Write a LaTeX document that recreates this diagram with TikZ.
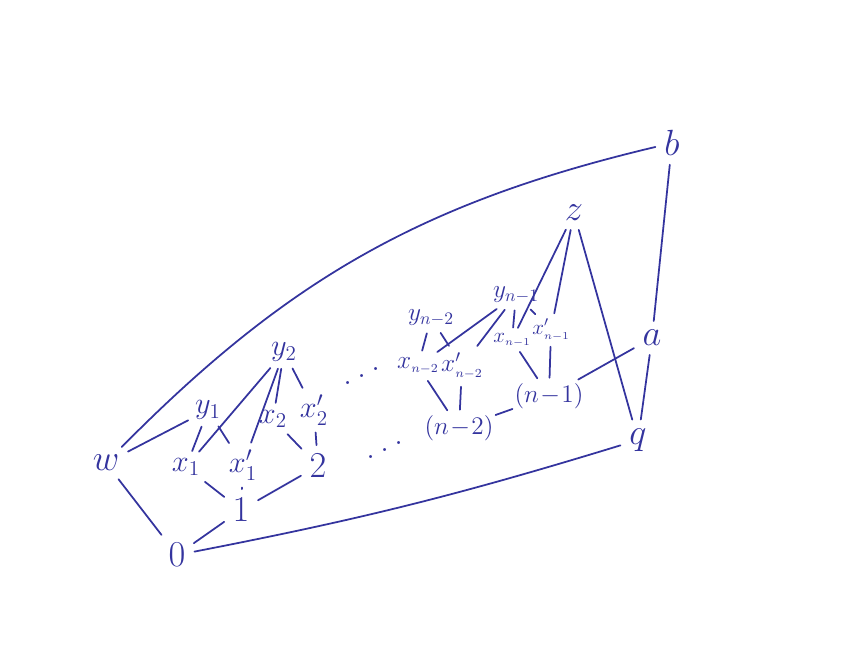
\documentclass[tikz,border=0pt]{standalone}
\usepackage{amsmath,amssymb}
\usepackage{tikz}
\usetikzlibrary{arrows.meta}
\usepackage{xcolor}
\definecolor{pen}{RGB}{52,52,158}
\tikzset{
  elt/.style={text=pen, font=\huge, inner sep=3pt},
  mid/.style={text=pen, font=\LARGE, inner sep=2pt},
  sml/.style={text=pen, font=\Large, inner sep=2pt},
  tny/.style={text=pen, font=\large, inner sep=1pt},
  ln/.style={draw=pen, line width=1pt, line cap=round, shorten >=2pt, shorten <=2pt}
}
\newcommand{\risedots}{.\hspace{3pt}\raisebox{4pt}{.}\hspace{3pt}\raisebox{8pt}{.}}

\begin{document}
\begin{tikzpicture}[x=0.02cm, y=-0.02cm]
  \useasboundingbox (0,0) rectangle (845,658);
  % outer elements
  \node[elt] (b) at (672,143) {$b$};
  \node[elt] (z) at (574,213) {$z$};
  \node[elt] (a) at (652,338) {$a$};
  \node[elt] (q) at (638,440) {$q$};
  \node[elt] (w) at (106,463) {$w$};
  \node[elt] (n0) at (177,555) {$0$};
  % chain
  \node[elt] (n1) at (241,510) {$1$};
  \node[elt] (n2) at (318,466) {$2$};
  \node[sml, inner sep=1pt] (nm2) at (459,428) {$(n\!-\!2)$};
  \node[sml, inner sep=1pt] (nm1) at (549,396) {$(n\!-\!1)$};
  \node[elt] (dotlo) at (385,450) {\risedots};
  \node[elt] (dothi) at (362,376) {\risedots};
  % first blocks
  \node[mid] (x1) at (186,467) {$x_1$};
  \node[mid] (x1p) at (243,465) {$x_1'$};
  \node[mid] (y1) at (208,410) {$y_1$};
  \node[mid] (x2) at (273,419) {$x_2$};
  \node[mid] (x2p) at (314,410) {$x_2'$};
  \node[mid] (y2) at (284,352) {$y_2$};
  % last blocks
  \node[sml] (ym2) at (431,318) {$y_{n-2}$};
  \node[sml] (xm2) at (418,366) {$x_{\scriptscriptstyle n-2}$};
  \node[sml] (xm2p) at (462,366) {$x_{\scriptscriptstyle n-2}'$};
  \node[sml] (ym1) at (516,295) {$y_{n-1}$};
  \node[tny] (xm1) at (512,340) {$x_{\scriptscriptstyle n-1}$};
  \node[tny] (xm1p) at (551,330) {$x_{\scriptscriptstyle n-1}'$};

  % outer frame
  \draw[ln] (w) to[bend left=16] (b);
  \draw[ln] (b) -- (a);
  \draw[ln] (a) -- (q);
  \draw[ln] (z) -- (q);
  \draw[ln] (w) -- (n0);
  \draw[ln] (w) -- (y1);
  \draw[ln] (n0) to[bend right=3] (q);
  % bottom chain
  \draw[ln] (n0) -- (n1);
  \draw[ln] (n1) -- (n2);
  \draw[ln, shorten >=0pt, shorten <=0pt] (nm2) -- (nm1);
  \draw[ln] (nm1) -- (a);
  % first blocks
  \draw[ln] (n1) -- (x1);
  \draw[ln] (n1) -- (x1p);
  \draw[ln] (n2) -- (x2);
  \draw[ln] (n2) -- (x2p);
  \draw[ln] (y1) -- (x1);
  \draw[ln] (y1) -- (x1p);
  \draw[ln] (y2) -- (x1);
  \draw[ln] (y2) -- (x1p);
  \draw[ln] (y2) -- (x2);
  \draw[ln] (y2) -- (x2p);
  % last blocks
  \draw[ln] (nm2) -- (xm2);
  \draw[ln] (nm2) -- (xm2p);
  \draw[ln] (nm1) -- (xm1);
  \draw[ln] (nm1) -- (xm1p);
  \draw[ln] (ym2) -- (xm2);
  \draw[ln] (ym2) -- (xm2p);
  \draw[ln] (ym1) -- (xm2);
  \draw[ln] (ym1) -- (xm2p);
  \draw[ln] (ym1) -- (xm1);
  \draw[ln] (ym1) -- (xm1p);
  \draw[ln] (z) -- (xm1);
  \draw[ln] (z) -- (xm1p);
\end{tikzpicture}
\end{document}
